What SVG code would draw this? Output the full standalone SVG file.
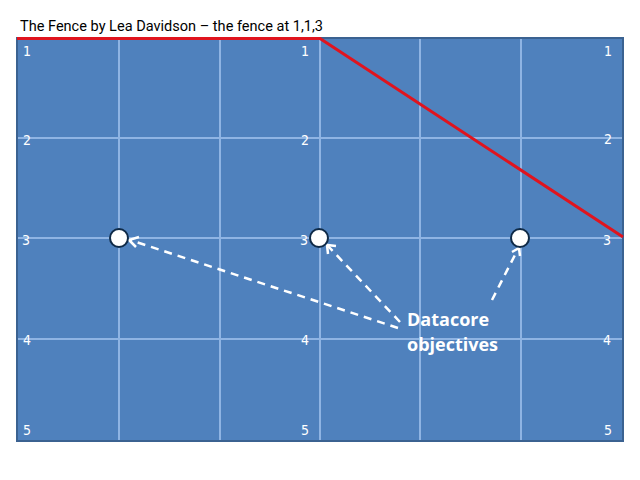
<svg xmlns="http://www.w3.org/2000/svg" width="640" height="480" viewBox="0 0 640 480">
<style>
.grid{stroke:#8fb4e3;stroke-width:2}
.lbl{font-family:"DejaVu Sans Condensed","Liberation Sans",sans-serif;font-stretch:condensed;font-size:14px;fill:#ffffff;text-anchor:middle}
.dot{fill:#ffffff;stroke:#0f2a47;stroke-width:2}
.conn{stroke:#ffffff;stroke-width:2.5;stroke-dasharray:8 6;fill:none}
.head{stroke:#ffffff;stroke-width:2.5;fill:none}
</style>
<rect width="640" height="480" fill="#ffffff"/>
<text x="20" y="31" font-family="Roboto, Liberation Sans, sans-serif" font-size="15" fill="#000000" textLength="303" lengthAdjust="spacingAndGlyphs">The Fence by Lea Davidson – the fence at 1,1,3</text>
<g id="board">
<rect x="17" y="38" width="606" height="403" fill="#4f81bd" stroke="#3b6291" stroke-width="2"/>
<line class="grid" x1="119" y1="39" x2="119" y2="440"/>
<line class="grid" x1="220" y1="39" x2="220" y2="440"/>
<line class="grid" x1="320" y1="39" x2="320" y2="440"/>
<line class="grid" x1="420" y1="39" x2="420" y2="440"/>
<line class="grid" x1="521" y1="39" x2="521" y2="440"/>
<line class="grid" x1="18" y1="138" x2="622" y2="138"/>
<line class="grid" x1="18" y1="238" x2="622" y2="238"/>
<line class="grid" x1="18" y1="339" x2="622" y2="339"/>
<text class="lbl" x="27" y="56">1</text>
<text class="lbl" x="305" y="56">1</text>
<text class="lbl" x="608" y="56">1</text>
<text class="lbl" x="27" y="145">2</text>
<text class="lbl" x="305" y="145">2</text>
<text class="lbl" x="608" y="144">2</text>
<text class="lbl" x="26" y="245">3</text>
<text class="lbl" x="304" y="245">3</text>
<text class="lbl" x="607" y="245">3</text>
<text class="lbl" x="27" y="345">4</text>
<text class="lbl" x="305" y="345">4</text>
<text class="lbl" x="607" y="345">4</text>
<text class="lbl" x="27" y="435">5</text>
<text class="lbl" x="305" y="435">5</text>
<text class="lbl" x="608" y="435">5</text>
</g>
<polyline id="fence" points="17,38.5 320,38.5 623,237" fill="none" stroke="#e0141e" stroke-width="3"/>
<g id="connectors">
<line class="conn" x1="398" y1="328" x2="130" y2="240"/>
<polyline class="head" points="139,237 129,240 136,247"/>
<line class="conn" x1="400" y1="322" x2="328" y2="246"/>
<polyline class="head" points="328,254 327,245 336,246"/>
<line class="conn" x1="492" y1="300" x2="518" y2="249"/>
<polyline class="head" points="512,252 519,248 520,256"/>
</g>
<g id="obj1"><circle class="dot" cx="119" cy="238" r="9"/></g>
<g id="obj2"><circle class="dot" cx="319" cy="238" r="9"/></g>
<g id="obj3"><circle class="dot" cx="520" cy="238" r="9"/></g>
<g id="label">
<text x="407" y="326" font-family="Open Sans, sans-serif" font-weight="bold" font-size="18" fill="#ffffff">Datacore</text>
<text x="407" y="351" font-family="Open Sans, sans-serif" font-weight="bold" font-size="18" fill="#ffffff">objectives</text>
</g>
</svg>
